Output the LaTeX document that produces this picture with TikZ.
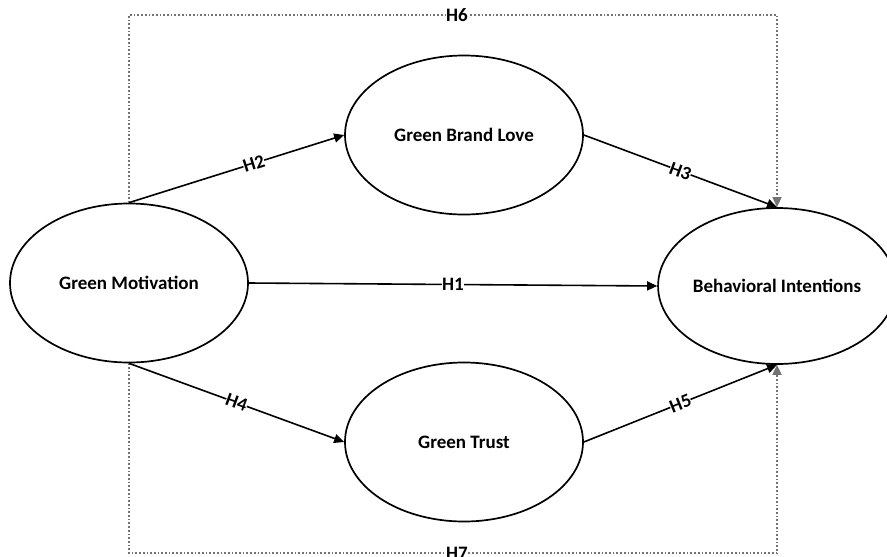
\documentclass[tikz,border=0pt]{standalone}
\usepackage{fontspec}
\setmainfont{Carlito}
\usetikzlibrary{arrows.meta, positioning, shapes.geometric}
\colorlet{dotgray}{black!55}

\begin{document}
\begin{tikzpicture}[x=1pt, y=-1pt, >={Triangle[length=10pt, width=9pt]},
    construct/.style={ellipse, draw=black, line width=1.7pt, minimum width=238pt,
      minimum height=159pt, inner sep=0pt, font=\fontsize{19}{22}\selectfont\bfseries},
    path/.style={->, line width=1.6pt},
    hyp/.style={font=\fontsize{19}{22}\selectfont\bfseries, fill=white, inner sep=0pt, sloped},
    indirect/.style={->, dotted, dotgray, line width=1.7pt}]
    \useasboundingbox (0,0) rectangle (887,557);

    % constructs
    \node[construct] (gm) at (129, 283) {Green Motivation};
    \node[construct] (gbl) at (464, 135) {Green Brand Love};
    \node[construct] (gt) at (464, 442) {Green Trust};
    \node[construct, minimum width=222pt, minimum height=156pt] (bi) at (777, 286) {Behavioral Intentions};

    % mediated paths
    \coordinate (top) at (457, 15);
    \coordinate (bot) at (457, 553);
    \draw[indirect] (gm.north) |- (top) -| (bi.north);
    \draw[indirect] (gm.south) |- (bot) -| (bi.south);
    \node[hyp, text=black] at (top) {H6};
    \node[hyp, text=black] at (bot) {H7};

    % direct paths
    \draw[path] (gm.north) -- node[hyp, pos=0.58] {H2} (gbl.west);
    \draw[path] (gm.east) -- node[hyp] {H1} (bi.west);
    \draw[path] (gm.south) -- node[hyp] {H4} (gt.west);
    \draw[path] (gbl.east) -- node[hyp] {H3} (bi.north);
    \draw[path] (gt.east) -- node[hyp] {H5} (bi.south);
\end{tikzpicture}
\end{document}
